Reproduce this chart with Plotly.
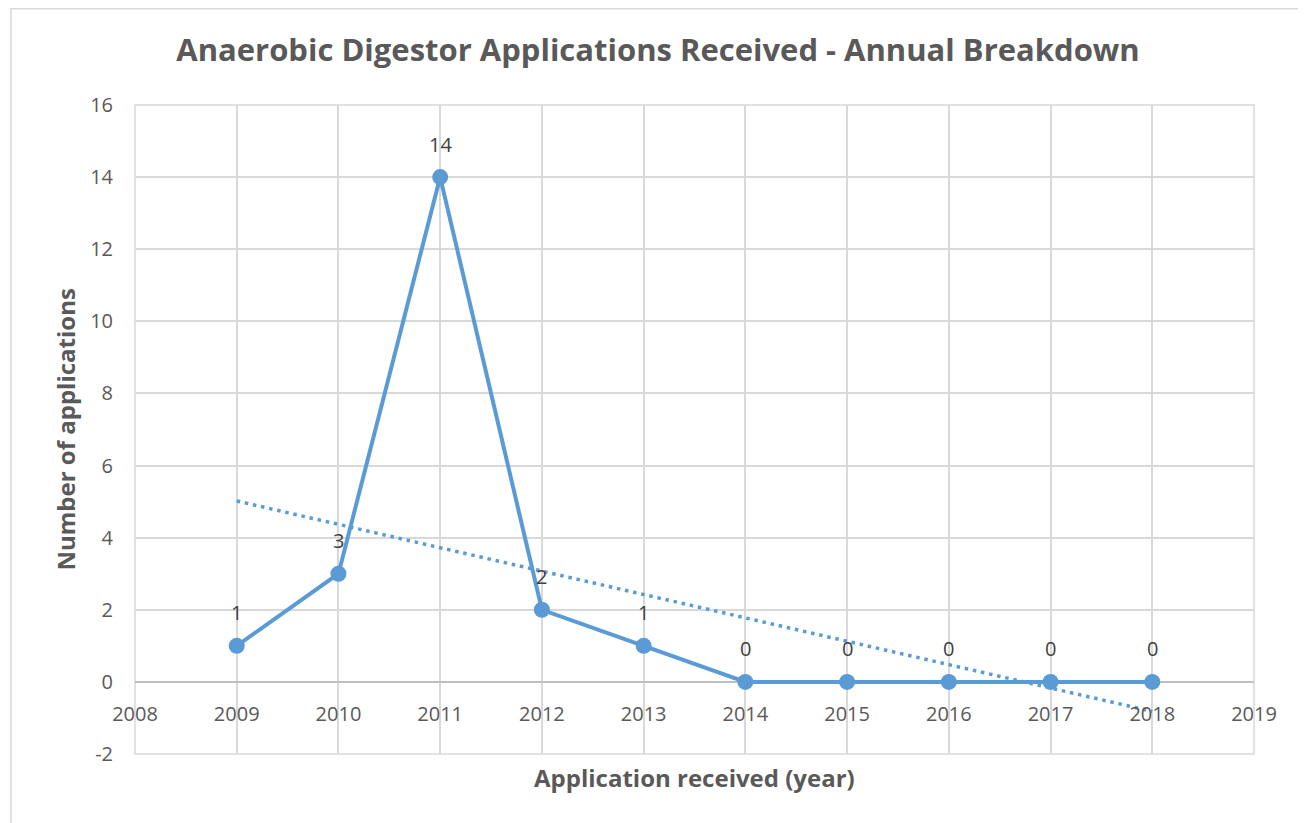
import numpy as np
import plotly.graph_objects as go

years = [2009, 2010, 2011, 2012, 2013, 2014, 2015, 2016, 2017, 2018]
applications = [1, 3, 14, 2, 1, 0, 0, 0, 0, 0]

y_tick_values = [-2, 0, 2, 4, 6, 8, 10, 12, 14, 16]
y_tick_labels = ["-2", "0", "2", "4", "6", "8", "10", "12", "14", "16"]

title_text = "Anaerobic Digestor Applications Received - Annual Breakdown"
x_title = "Application received (year)"
y_title = "Number of applications"

slope, intercept = np.polyfit(years, applications, 1)
trend_x = [years[0], years[-1]]
trend_y = [slope * x + intercept for x in trend_x]

FONT = "Open Sans"
BLUE = "#5b9bd5"
OFF = 8  # page body margin

W, H = 1306 - OFF, 823 - OFF
L, R, T, B = 135 - OFF, 1254 - OFF, 105 - OFF, 754 - OFF
pw, ph = R - L, B - T

fig = go.Figure()
fig.add_trace(go.Scatter(x=trend_x, y=trend_y, mode="lines",
                         line=dict(color=BLUE, width=3.5, dash="3.5px,4.8px"),
                         showlegend=False, hoverinfo="skip"))
fig.add_trace(go.Scatter(x=years, y=applications, mode="lines+markers",
                         line=dict(color=BLUE, width=4),
                         marker=dict(color=BLUE, size=16),
                         showlegend=False))

for x, y in zip(years, applications):
    fig.add_annotation(x=x, y=y, text=str(y), showarrow=False, yshift=33,
                       font=dict(family=FONT, size=20, color="#404040"))

fig.add_annotation(xref="paper", yref="paper", x=0.5, y=(B - (777 - OFF)) / ph,
                   xanchor="center", yanchor="middle",
                   text="<b>" + x_title + "</b>", showarrow=False,
                   font=dict(family=FONT, size=24, color="#595959"))
fig.add_annotation(xref="paper", yref="paper", x=(65 - OFF - L) / pw, y=0.5,
                   xanchor="center", yanchor="middle",
                   text="<b>" + y_title + "</b>", showarrow=False, textangle=-90,
                   font=dict(family=FONT, size=24, color="#595959"))

# outer chart border
fig.add_shape(type="rect", xref="paper", yref="paper",
              x0=(11 - OFF - L) / pw, x1=(1301 - OFF - L) / pw,
              y0=(B - 900) / ph, y1=(B - 0.8) / ph,
              line=dict(color="#d9d9d9", width=1.5), layer="below")
# plot area edges
fig.add_shape(type="rect", xref="paper", yref="paper", x0=0, x1=1, y0=0, y1=1,
              line=dict(color="#d9d9d9", width=1.5), layer="below")

fig.update_layout(
    width=W, height=H,
    margin=dict(l=L, r=W - R, t=T, b=H - B),
    paper_bgcolor="white", plot_bgcolor="white",
    title=dict(text="<b>" + title_text + "</b>", x=(658 - OFF) / W, xref="container",
               xanchor="center", y=1 - (50 - OFF) / H, yref="container", yanchor="middle",
               font=dict(family=FONT, size=31, color="#595959")),
    xaxis=dict(range=[2008, 2019], dtick=1, tick0=2008, showgrid=True,
               gridcolor="#d9d9d9", gridwidth=1.5, zeroline=False,
               anchor="free", position=(B - (681 - OFF)) / ph,
               showline=False, ticks="", ticklabelstandoff=19,
               tickfont=dict(family=FONT, size=20, color="#595959")),
    yaxis=dict(range=[-2, 16], tickvals=y_tick_values, ticktext=y_tick_labels,
               domain=[0, 1], showgrid=True,
               gridcolor="#d9d9d9", gridwidth=1.5, zeroline=True,
               zerolinecolor="#bfbfbf", zerolinewidth=1.5, showline=False,
               ticks="", ticklabelstandoff=21,
               tickfont=dict(family=FONT, size=20, color="#595959")),
)

fig.write_html("out.html")
